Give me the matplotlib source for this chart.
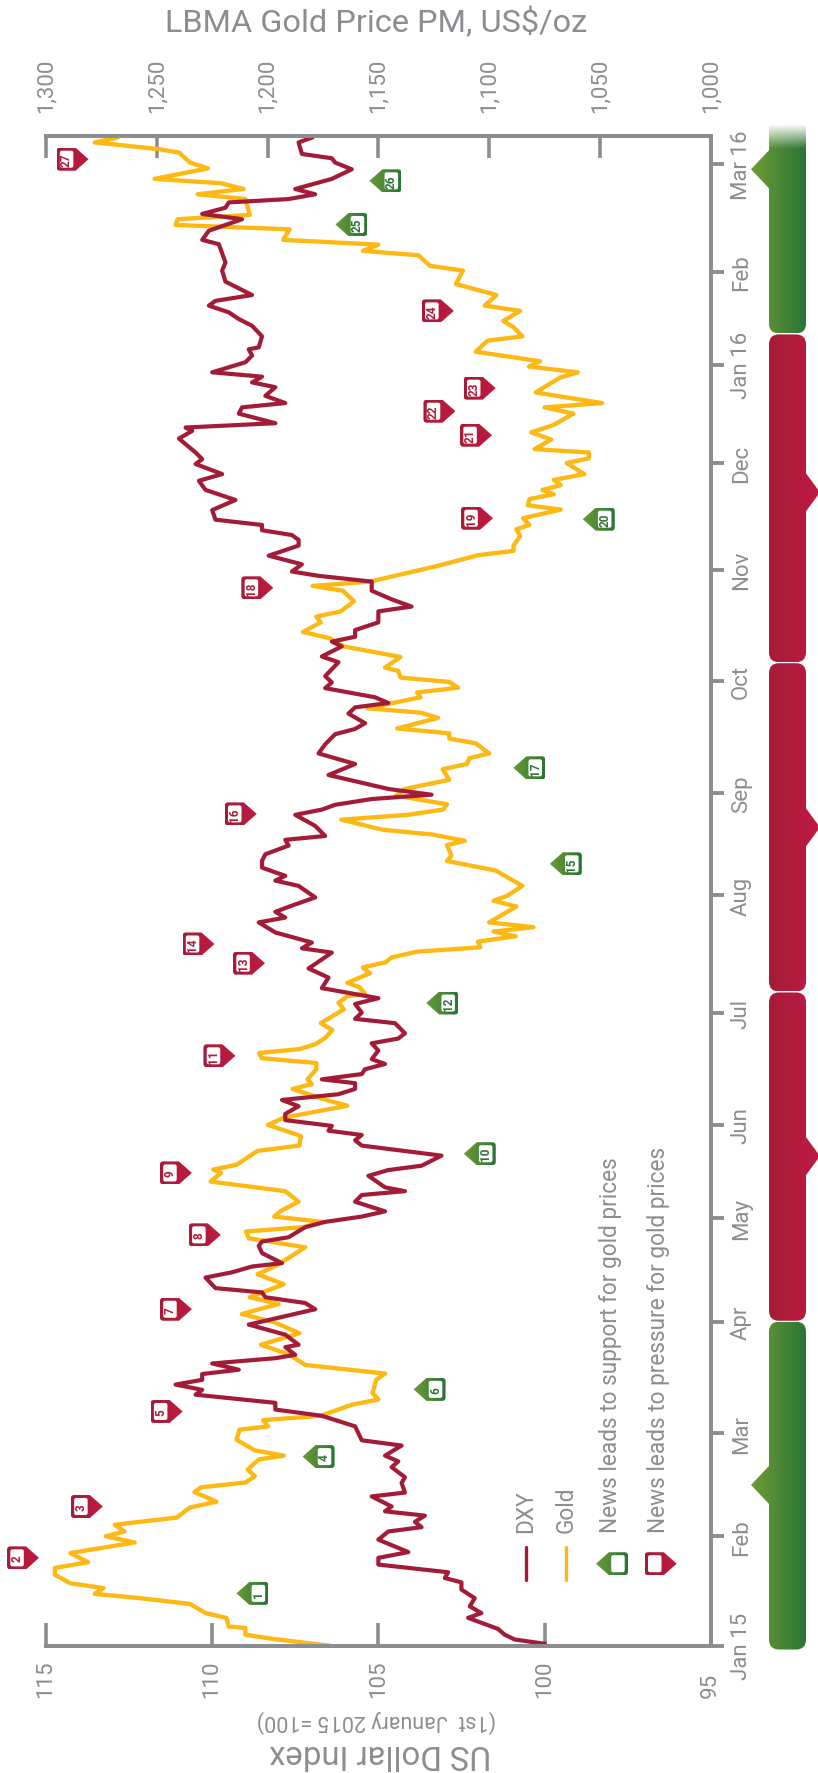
import numpy as np
import matplotlib
matplotlib.use('Agg')
import matplotlib.pyplot as plt
from matplotlib.path import Path
from matplotlib.patches import PathPatch
from matplotlib.colors import to_rgb

plt.rcParams['font.family'] = ['Roboto', 'DejaVu Sans']

# x positions are trading days counted from 1 Jan 2015
gold_day = [0, 1.5, 2.3, 3.7, 4, 5.8, 6.8, 8.7, 9.9, 10.8, 12, 13, 14.8, 16.2, 17.4, 19.3, 21.5, 22.8, 23.8, 25.2,
    26.7, 28.8, 30, 32, 33, 34, 35.3, 36.7, 38.8, 39.6, 40.7, 42.9, 45, 45.7, 47, 47.9, 50.2, 51.3, 52.6, 55.4,
    56.7, 58.5, 60.6, 62.7, 65.1, 67.4, 69.1, 71.2, 72.6, 75.3, 77.4, 79.2, 83, 84.9, 86.3, 87.2, 88.3, 89.4, 90.6, 92.5,
    94.7, 96.7, 98.5, 99.2, 100.2, 103.1, 104.2, 106.2, 108.5, 110, 112.5, 113.9, 116, 117, 118, 120.1, 121.4, 122.4, 123.5, 124.3,
    125.3, 126.7, 128.3, 129.7, 132.6, 134, 135.3, 135.8, 137.2, 138.1, 140.1, 141.3, 142.4, 143.4, 144.6, 145.5, 146.7, 147.8, 148.8, 149.7,
    150.7, 154, 155.2, 156.2, 158.3, 161.5, 163.5, 164.6, 166.8, 167.7, 169, 170, 172.1, 173.1, 174.2, 175.3, 177.1, 178.5, 180.4, 182.6,
    183.7, 184.9, 185.9, 188, 189, 190.1, 191.1, 193.3, 194.4, 195.3, 197.6, 198.6, 199.6, 200.8, 201.7, 203.1, 203.8, 206, 208.2, 209.9,
    211.2, 213.2, 214.4, 215.5, 217.6, 219.8, 220.8, 221.7, 223.6, 225, 227.2, 228.1, 229.2, 231.2, 232.6, 233.5, 234.9, 236.7, 237.6, 238.9,
    239.9, 240.8, 241.8, 242.9, 244.1, 246.4, 247.4, 248.6, 249.3, 251.3, 252.8, 254.3, 256.7, 258, 258.9, 261.1, 264.2, 265.3, 266.5, 267.6,
    269.6, 271.9, 272.8, 274.7, 276, 278.1, 279.2, 281.4, 283.7, 286.5, 287.5, 289.7, 290.6, 291.9, 292.9, 295.1, 296, 297.2, 298.1, 301.4,
    302.4, 303.5, 304.7, 305.6, 307.8, 309, 311.1, 311.8, 313.2, 314.2]
gold_price = [1172, 1199, 1210, 1210, 1217.5, 1218.6, 1228, 1235, 1257.5, 1278, 1274, 1289, 1296, 1296, 1281, 1289, 1260, 1273, 1264.6, 1269,
    1241, 1235, 1223, 1233, 1230, 1210, 1205.7, 1209, 1204, 1192.7, 1205.7, 1214, 1212.7, 1199.8, 1202, 1176, 1162, 1150, 1152.6, 1151,
    1147, 1183, 1190, 1203, 1185.6, 1197, 1211.6, 1195, 1208, 1192.7, 1204.5, 1196, 1183, 1208.5, 1209.7, 1184, 1175, 1197, 1194, 1186,
    1192, 1225.7, 1221, 1224.5, 1214, 1204.5, 1185.6, 1185, 1199.8, 1192.7, 1164, 1175, 1188.7, 1180, 1182, 1178, 1178, 1202.6, 1203.8, 1185.6,
    1178.5, 1173.8, 1170.8, 1176, 1165.6, 1168, 1164, 1156, 1158.5, 1164, 1153.8, 1157, 1146.7, 1144, 1132.5, 1104, 1105, 1088, 1098, 1080,
    1100, 1087.7, 1098, 1092, 1085, 1097, 1119, 1117, 1119, 1111, 1125.5, 1148, 1166.7, 1137, 1120.8, 1119, 1142, 1138, 1118, 1121,
    1110, 1109, 1100, 1106, 1118, 1118, 1141.5, 1123, 1131, 1155, 1131, 1132.5, 1114, 1118, 1140, 1141, 1147, 1140, 1165.6, 1172,
    1184, 1176, 1178, 1167, 1161, 1166, 1179.7, 1153.8, 1136, 1123, 1105, 1089, 1089, 1086, 1087.7, 1081.8, 1084.7, 1067.7, 1082.5, 1081.8,
    1070.8, 1076, 1067.7, 1070.8, 1057, 1065, 1055, 1055, 1079.5, 1072, 1081, 1071, 1062, 1075, 1049, 1079, 1068, 1060, 1082, 1077,
    1106, 1100.7, 1085, 1089, 1093.6, 1086, 1102, 1096.7, 1115, 1111.8, 1126.7, 1132, 1157, 1150, 1193, 1190, 1241.5, 1240.6, 1208, 1210,
    1231.6, 1210.8, 1221, 1251, 1226.9, 1235, 1240, 1249, 1278, 1268]

dxy_day = [0.4, 1.3, 2.3, 3.5, 5.8, 6.8, 8.2, 9.9, 11.7, 13.2, 14.1, 15.3, 16.9, 18.3, 19.5, 22.1, 23.8, 24.7, 25.8, 27.1,
    28, 29, 31.1, 31.9, 33.9, 35.1, 37.2, 38.4, 39.6, 41.7, 42.8, 45.7, 47.9, 49.2, 50.6, 52.3, 53.3, 54.4, 55.4, 56.6,
    57.5, 58.8, 59.9, 60.6, 62.2, 62.7, 64.8, 66.9, 70.1, 71.4, 72.6, 73.6, 74.5, 76.7, 77.8, 79, 79.7, 81.8, 83.3, 84.2,
    85.1, 87.2, 88.3, 89.4, 90.5, 92.5, 93.9, 94.7, 95.5, 97.9, 99.1, 100, 102.1, 104.2, 105.3, 106.4, 107.3, 108.3, 109.5, 110.8,
    112.4, 113.7, 114.9, 116, 117.2, 118, 119.1, 120.1, 121.2, 122.2, 124, 125.5, 126.5, 127.6, 129.7, 130.6, 131.9, 133.7, 134.9, 137,
    139.2, 141.1, 144.4, 145.3, 146.5, 148.6, 150.7, 151.7, 152.9, 154.2, 155.9, 158.3, 159.4, 160.4, 162.1, 163.5, 164.9, 166.7, 167.9, 168.7,
    170.8, 173.1, 174.2, 175.2, 176.4, 177.3, 178.5, 181.4, 183.7, 185.9, 187.8, 189.9, 191, 192.2, 194.2, 195.5, 196.4, 197.6, 199.5, 200.7,
    202, 204.9, 206.1, 208.2, 209.2, 210.2, 211.6, 213.2, 215.5, 216.5, 218, 219.8, 221.7, 222.9, 223.8, 225.3, 227.1, 229.2, 230.4, 231.4,
    232.4, 233.5, 234.6, 236.6, 238.7, 240.8, 242.7, 244.1, 246.2, 247.2, 248.6, 251.5, 253.1, 253.8, 254.7, 256.7, 258, 258.9, 260.4, 262.2,
    263.2, 264.4, 265.3, 267.4, 268.8, 270.1, 270.5, 272.8, 275, 276.4, 277.8, 279.2, 280.2, 281.4, 284.2, 286.5, 288.2, 292, 292.9, 294.8,
    297.2, 298.3, 299.6, 300.7, 301.4, 302.4, 303.5, 305.6, 307.6, 309, 309.9, 310.8, 313.2, 314.2]
dxy_value = [100, 100.9, 101.2, 101.4, 102.3, 101.9, 102.25, 102.1, 102.5, 102.5, 103, 102.9, 105, 105, 104.1, 105, 104.7, 103.7, 103.9, 103.6,
    104.8, 104.6, 105.2, 104.2, 104.3, 104.2, 104.6, 104.4, 104.8, 104.3, 105.5, 105.7, 106.7, 108.1, 108.1, 110.5, 110.3, 111.1, 110.3, 110.3,
    109.2, 110, 108.1, 107.5, 107.8, 107.4, 107.8, 108.9, 106.9, 107.2, 108.4, 108.5, 109.9, 110.2, 109.4, 108.8, 107.9, 108.5, 108.6, 108.5,
    107.7, 107.2, 106.6, 105.5, 104.8, 105.7, 105.5, 104.2, 104.8, 105.3, 104.7, 103.7, 103.1, 105.5, 105.7, 105.5, 106.5, 106.4, 107.8, 107.8,
    107.4, 107.9, 106.2, 105.7, 105.7, 106.7, 105.5, 105.4, 104.8, 105.2, 105, 105.2, 104.4, 104.2, 104.5, 105.7, 105.5, 105.7, 105, 106.7,
    106.5, 107.1, 106.4, 107.3, 107, 108.1, 108.6, 107.8, 108.1, 107.6, 106.9, 107.4, 108.1, 107.8, 108.5, 108.5, 108.4, 107.7, 107.8, 106.6,
    106.9, 107.5, 106.7, 106.3, 105.2, 103.4, 104.7, 106.5, 105.7, 106.8, 106.6, 106.3, 105.7, 105.4, 105.9, 105.7, 104.7, 105.1, 106.6, 106.4,
    106.6, 106.2, 106.7, 106.1, 106.4, 105.7, 105.7, 105, 105, 104, 104.6, 105.2, 105.2, 106.8, 107.6, 107.3, 108.3, 107.4, 107.4, 107.6,
    108.5, 108.5, 109.9, 110, 109.3, 110.2, 110.4, 109.7, 110.5, 110.3, 110.5, 111, 110.6, 110.8, 108.1, 109.2, 109.1, 107.8, 108.4, 108.1,
    108.8, 108.5, 110, 109, 108.8, 108.9, 108.6, 108.5, 108.8, 109.2, 109.5, 110.1, 109.9, 108.8, 109.6, 109.7, 109.6, 109.8, 110.3, 110.1,
    109.1, 110.3, 109.6, 109.5, 107.7, 106.9, 107.5, 106.4, 105.8, 106.3, 106.4, 107.3, 107.4, 107]

month_day = [0, 22.8, 44.3, 67.5, 89.1, 108.5, 131.8, 156.4, 177.6, 200.9, 224.2, 246.5, 266.9, 286.3, 308.7]
month_label = ['Jan 15', 'Feb', 'Mar', 'Apr', 'May', 'Jun', 'Jul', 'Aug', 'Sep', 'Oct', 'Nov', 'Dec', 'Jan 16', 'Feb', 'Mar 16']
dxy_ticks = [115, 110, 105, 100, 95]
gold_ticks = [1300, 1250, 1200, 1150, 1100, 1050, 1000]

# news flags: number, day, position on the dollar scale, kind
flag_num = list(range(1, 28))
flag_day = [10.9, 18.3, 29, 39.4, 48.8, 53.4, 70.1, 85.6, 98.5, 102.5, 122.9, 133.9, 142.2, 146.2, 162.9, 173.3, 182.9, 220.4,
    234.9, 234.7, 252.2, 257.2, 262, 278.1, 296.1, 305.2, 309.7]
flag_val = [109.27, 115.21, 113.29, 107.28, 110.89, 103.94, 110.61, 109.74, 110.61, 102.43, 109.3, 103.56, 108.41, 109.93, 99.84,
    108.66, 100.94, 108.16, 101.55, 98.85, 101.58, 102.68, 101.47, 102.73, 106.29, 105.27, 113.72]
flag_kind = ['g', 'r', 'r', 'g', 'r', 'g', 'r', 'r', 'r', 'g', 'r', 'g', 'r', 'r', 'g', 'r', 'g', 'r', 'r', 'g', 'r', 'r', 'r', 'r', 'g', 'g', 'r']

# strip on the right
strip_start = [-0.8, 67.7, 136.3, 204.9, 273.4]
strip_end = [67.5, 136.1, 204.7, 273.2, 317]
strip_kind = ['g', 'r', 'r', 'r', 'g']
strip_tip = [33.5, 102, 170.5, 240.3, 307.6]

GREY = '#8b8d91'
DXY_COL = '#a31c37'
GOLD_COL = '#fdb813'
GRAD = {'r': ('#a51c38', '#bf1a40'), 'g': ('#6b9a37', '#2a7535')}
BORDER = {'r': '#b01a3a', 'g': '#2a7535'}

W, H = 818, 1774
fig = plt.figure(figsize=(W/100, H/100), dpi=100, facecolor='white')
ax = fig.add_axes([46/W, 1-1646.7/H, (710.7-46)/W, 1510/H])
ax2 = ax.twiny()
ax.set_zorder(2)
ax2.set_zorder(1)
ax.patch.set_visible(False)

ax.set_xlim(115, 95)
ax.set_ylim(0, 314.6)
ax2.set_xlim(1300, 1000)

ax2.plot(gold_price, gold_day, color=GOLD_COL, lw=3.1, solid_joinstyle='round')
ax.plot(dxy_value, dxy_day, color=DXY_COL, lw=3.0, solid_joinstyle='round')

for a in (ax, ax2):
    a.spines['left'].set_visible(False)
    for s in ('top', 'bottom', 'right'):
        a.spines[s].set_color(GREY)
        a.spines[s].set_linewidth(2.8)

ax.set_xticks(dxy_ticks)
ax.set_xticklabels([])
ax.tick_params(axis='x', direction='in', length=16.5, width=2.6, color=GREY)
ax2.set_xticks(gold_ticks)
ax2.set_xticklabels([])
ax2.tick_params(axis='x', direction='in', length=16, width=2.6, color=GREY)
ax2.set_ylim(0, 314.6)

ax.yaxis.tick_right()
ax.set_yticks(month_day)
ax.set_yticklabels(month_label, rotation=90, va='center', ha='left', color=GREY, fontsize=16)
ax.tick_params(axis='y', direction='out', length=9.5, width=2.8, color=GREY, pad=5)

for v in dxy_ticks:
    ax.text(v, -0.034, str(v), transform=ax.get_xaxis_transform(), rotation=90, ha='center', va='bottom',
        color=GREY, fontsize=16)
for v in gold_ticks:
    ax2.text(v, 1.0157, f'{v:,}', transform=ax2.get_xaxis_transform(), rotation=90, ha='center', va='bottom',
        color=GREY, fontsize=16)

# overlay in pixel units for flags, strip and loose text
ov = fig.add_axes([0, 0, 1, 1], zorder=3)
ov.axis('off')
ov.patch.set_visible(False)
ov.set_autoscale_on(False)
ov.set_xlim(0, W)
ov.set_ylim(H, 0)

def to_px(val, day):
    x, y = ax.transData.transform((val, day))
    return x, H - y

def round_poly(pts):
    # pts = (x, y, radius)
    verts, codes = [], []
    n = len(pts)
    for i in range(n):
        x, y, r = pts[i]
        if r == 0:
            verts.append((x, y))
            codes.append(Path.LINETO)
            continue
        px, py = pts[i-1][:2]
        nx, ny = pts[(i+1) % n][:2]
        d0 = np.hypot(px-x, py-y)
        d1 = np.hypot(nx-x, ny-y)
        verts += [(x+(px-x)*r/d0, y+(py-y)*r/d0), (x, y), (x+(nx-x)*r/d1, y+(ny-y)*r/d1)]
        codes += [Path.LINETO, Path.CURVE3, Path.CURVE3]
    codes[0] = Path.MOVETO
    verts.append(verts[0])
    codes.append(Path.CLOSEPOLY)
    return Path(verts, codes)

def grad_fill(path, x0, x1, c0, c1, zorder=2):
    c = np.linspace(to_rgb(c0), to_rgb(c1), 64).reshape(1, 64, 3)
    y0, y1 = path.vertices[:, 1].min(), path.vertices[:, 1].max()
    im = ov.imshow(c, extent=(x0, x1, y1, y0), aspect='auto', interpolation='bilinear', zorder=zorder)
    im.set_clip_path(PathPatch(path, transform=ov.transData))

def flag(tx, ty, kind, num=None):
    d = 1 if kind == 'r' else -1
    back = tx - d*32
    mid = tx - d*13
    pts = [(back, ty-11.5, 3.5), (mid, ty-11.5, 0), (tx, ty, 0), (mid, ty+11.5, 0), (back, ty+11.5, 3.5)]
    if kind == 'r':
        grad_fill(round_poly(pts), back, tx, *GRAD['r'], zorder=4)
    else:
        grad_fill(round_poly(pts), tx, back, *GRAD['g'], zorder=4)
    a, b = sorted((back + d*3.3, back + d*16.8))
    inner = [(a, ty-8.5, 2), (b, ty-8.5, 2), (b, ty+8.5, 2), (a, ty+8.5, 2)]
    ov.add_patch(PathPatch(round_poly(inner), fc='white', ec='none', zorder=5))
    if num is not None:
        ov.text((a+b)/2, ty, str(num), rotation=90, ha='center', va='center', color=BORDER[kind],
            fontsize=8.5, fontweight='bold', zorder=6)

for n, d, v, k in zip(flag_num, flag_day, flag_val, flag_kind):
    tx, ty = to_px(v, d)
    flag(tx, ty, k, n)

# status strip
X0, X1 = 769, 806
for s, e, k in zip(strip_start, strip_end, strip_kind):
    yb = to_px(95, s)[1]
    yt = to_px(95, e)[1]
    top_r = 0 if e == strip_end[-1] else 10
    pts = [(X0, yt, top_r), (X1, yt, top_r)]
    right, left = [], []
    for t in strip_tip:
        yy = to_px(95, t)[1]
        if yt < yy < yb:
            if k == 'r':
                right = [(X1, yy-19, 0), (X1+14, yy, 0), (X1, yy+19, 0)]
            else:
                left = [(X0, yy+19, 0), (X0-18, yy, 0), (X0, yy-19, 0)]
    pts += right + [(X1, yb, 10), (X0, yb, 10)] + left
    if k == 'r':
        grad_fill(round_poly(pts), X0, X1+14, GRAD['r'][0], '#c01a42')
    else:
        grad_fill(round_poly(pts), X0-18, X1, '#6f9c36', GRAD['g'][1])

fade = np.ones((32, 1, 4))
fade[:, 0, 3] = np.linspace(1, 0, 32)
ov.imshow(fade, extent=(X0-1, X1+1, 150, 125), aspect='auto', interpolation='bilinear', zorder=3)

# legend
ov.plot([526, 526], [1548, 1581], color=DXY_COL, lw=2.4, solid_capstyle='round')
ov.plot([565.7, 565.7], [1548, 1581], color=GOLD_COL, lw=2.4, solid_capstyle='round')
flag(596, 1564.7, 'g')
flag(676.7, 1564.7, 'r')
for x, t in zip([526, 565.7, 610, 658], ['DXY', 'Gold', 'News leads to support for gold prices',
        'News leads to pressure for gold prices']):
    ov.text(x, 1533, t, rotation=90, ha='center', va='bottom', color=GREY, fontsize=16.3)

ov.text(376, 31.7, 'LBMA Gold Price PM, US$/oz', ha='center', va='baseline', color=GREY, fontsize=23.4)
ov.text(380, 1754, 'US Dollar Index', rotation=180, ha='center', va='center', color=GREY, fontsize=23.7)
ov.text(376, 1721, '(1st  January 2015 =100)', rotation=180, ha='center', va='center', color=GREY, fontsize=15.5)

ov.set_xlim(0, W)
ov.set_ylim(H, 0)

fig.savefig('out.png', dpi=100)
